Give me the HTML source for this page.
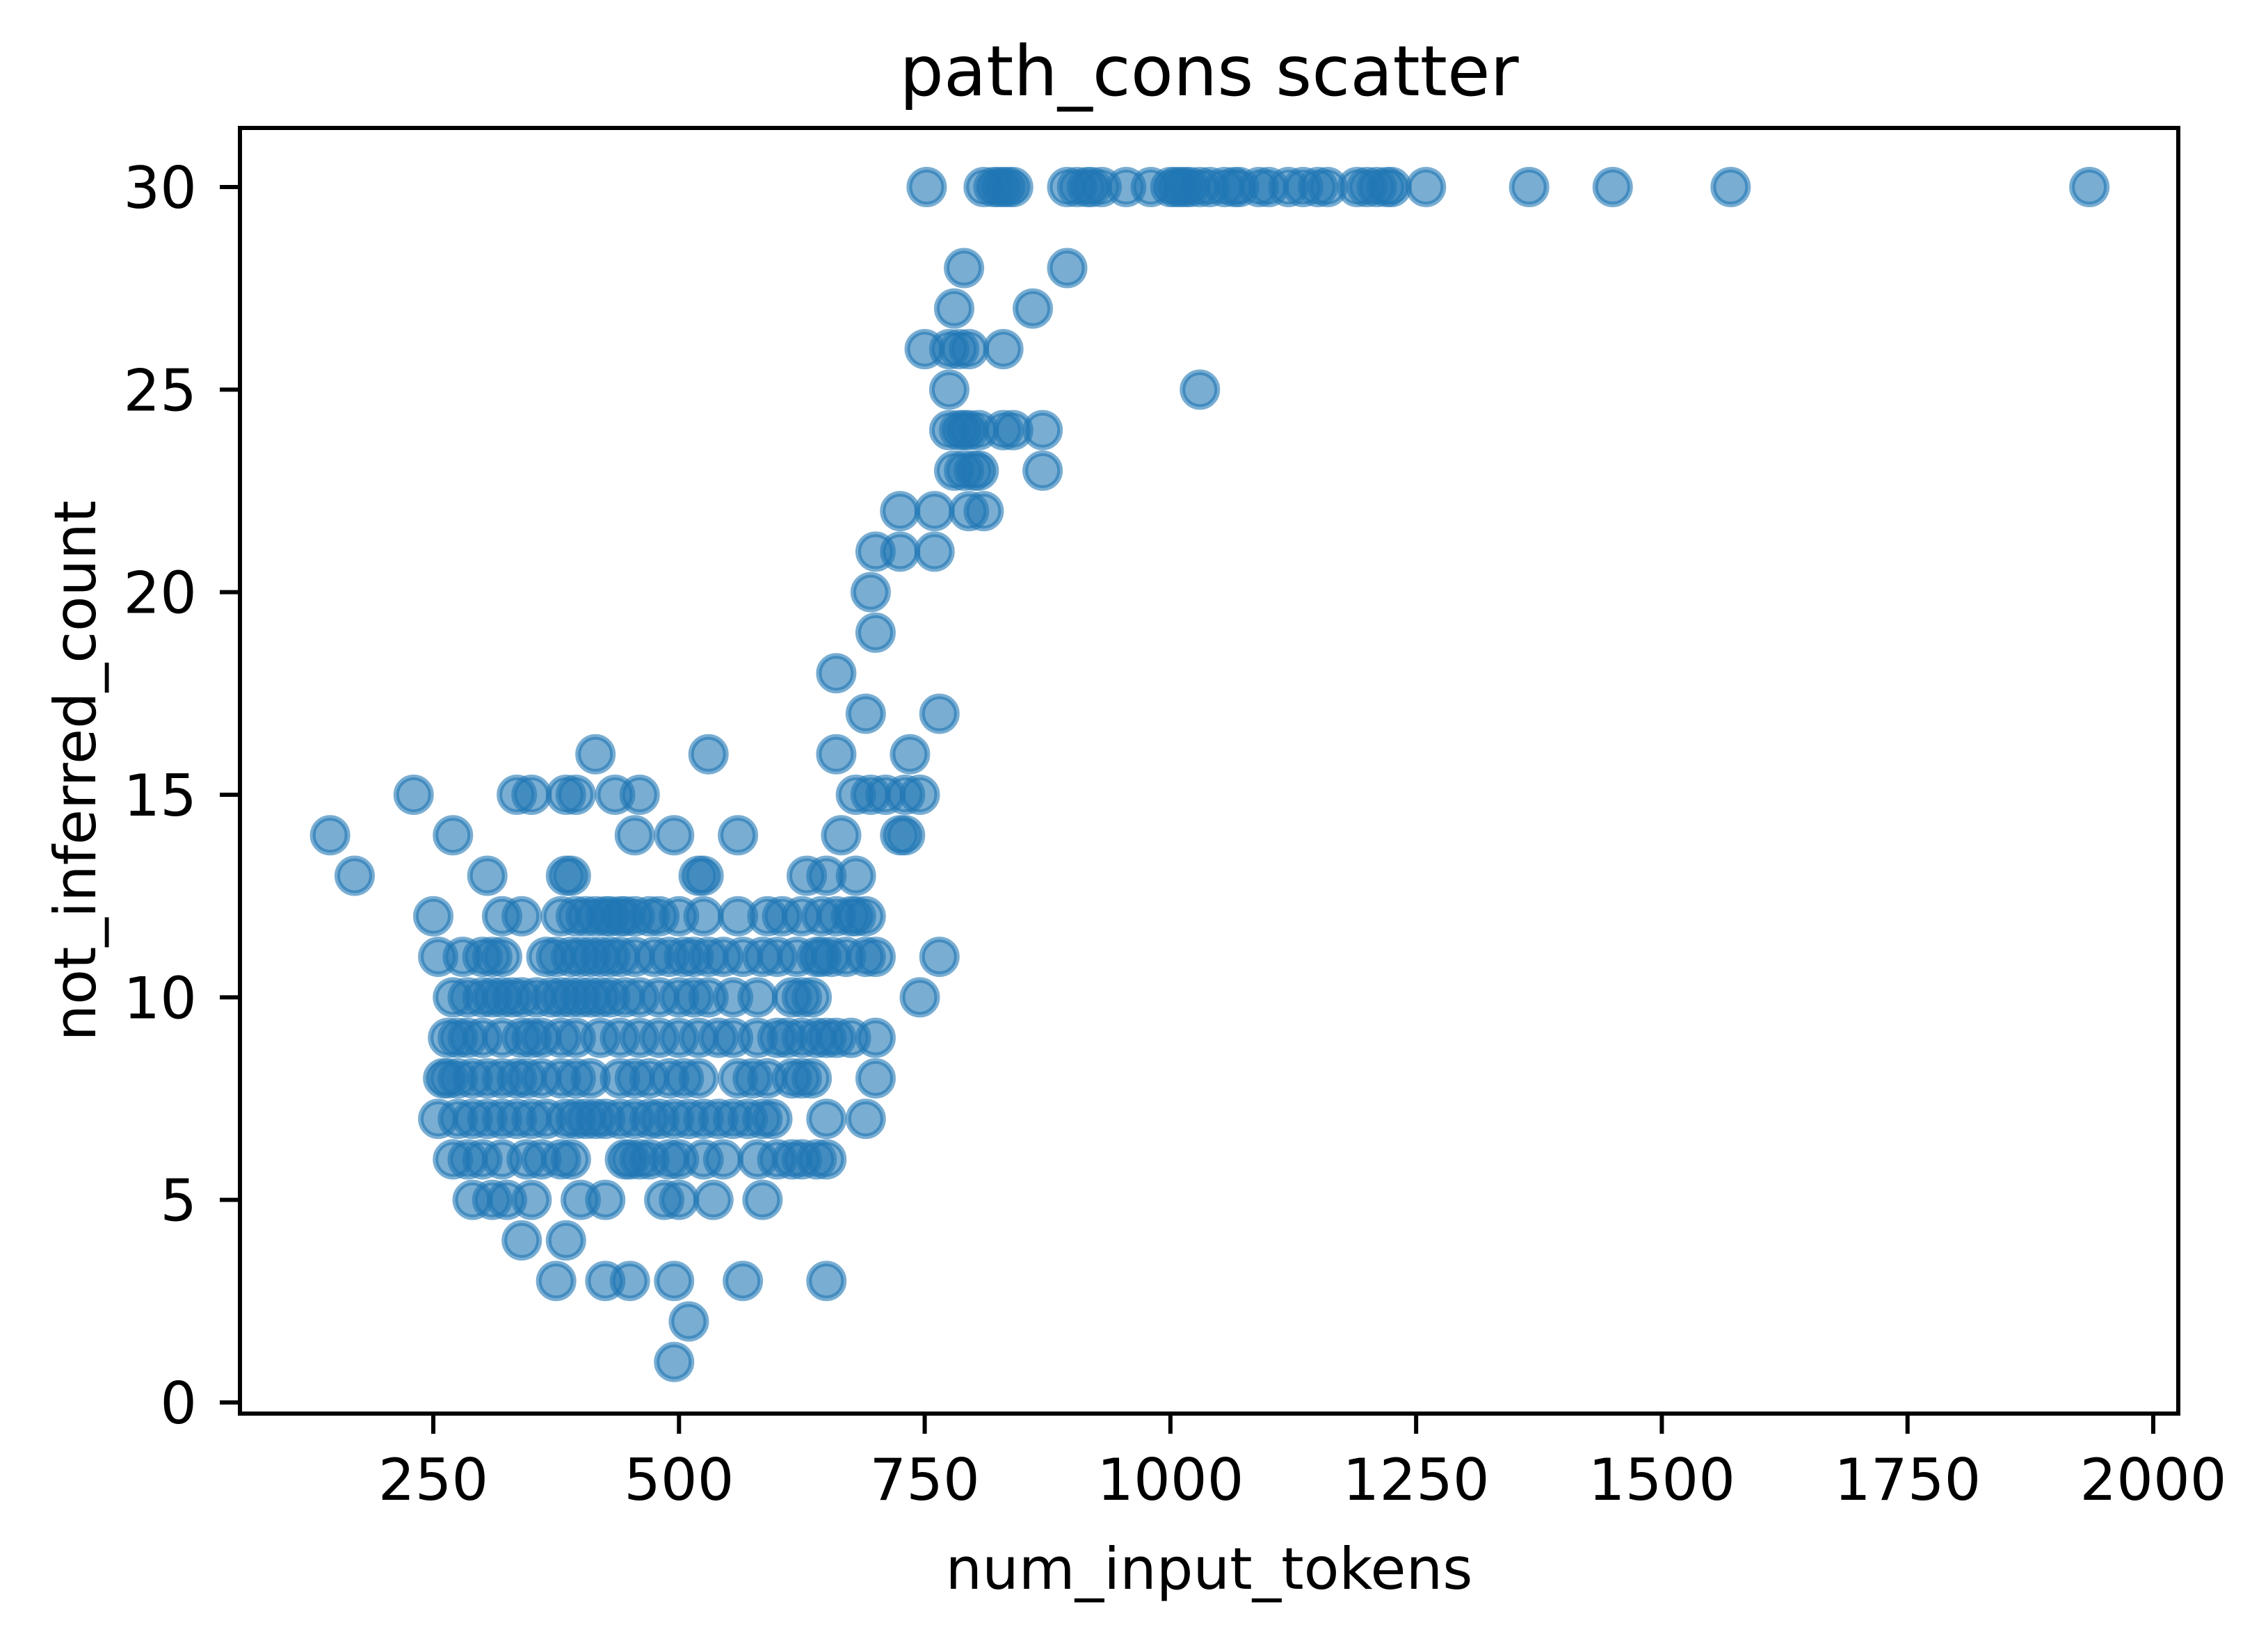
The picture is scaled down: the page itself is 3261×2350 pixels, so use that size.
<!DOCTYPE html>
<html><head><meta charset="utf-8"><style>html,body{margin:0;padding:0;background:#fff}svg{display:block}</style></head>
<body>
<svg id="chart" width="3261" height="2350" xmlns="http://www.w3.org/2000/svg" font-family="DejaVu Sans, Liberation Sans, sans-serif">
<rect width="3261" height="2350" fill="#fff"/>
<g id="marks"></g>
<g id="axes"></g>
</svg>
<script>
const xTicks = [250,500,750,1000,1250,1500,1750,2000];
const yTicks = [0,5,10,15,20,25,30];
const yLevels = [30,28,27,26,25,24,23,22,21,20,19,18,17,16,15,14,13,12,11,10,9,8,7,6,5,4,3,2,1];
const xByLevel = [
[752,810,820,825,830,835,840,895,905,915,920,930,955,980,1000,1005,1010,1015,1020,1030,1040,1055,1065,1070,1090,1100,1120,1135,1150,1160,1190,1200,1210,1220,1225,1260,1365,1450,1570,1935],
[790,895],[780,860],[750,775,785,795,830],[775,1030],
[775,785,790,795,805,830,840,870],[780,790,800,805,870],[725,760,795,810],
[700,725,760],[695],[700],[660],[690,765],[415,530,660,735],
[230,335,350,385,395,435,460,680,695,710,730,745],
[145,270,455,495,560,665,725,730],
[170,305,385,390,520,525,630,650,680],
[250,320,340,380,395,405,415,425,430,440,445,455,470,480,500,525,560,590,605,625,645,660,675,680,690],
[255,280,300,310,320,365,375,390,400,410,420,430,440,455,475,490,505,515,530,545,565,585,600,620,640,645,655,670,690,700,765],
[270,285,300,310,320,330,340,355,370,380,390,400,410,420,430,445,460,480,500,515,530,555,580,615,625,635,745],
[265,275,285,300,320,340,350,360,380,395,420,440,460,480,500,520,540,555,580,600,610,625,640,650,660,675,700],
[260,265,275,290,305,320,335,345,360,380,395,410,440,455,470,490,505,520,560,575,590,615,625,635,700],
[255,275,290,305,320,335,350,365,385,395,405,415,425,440,455,470,480,495,510,525,540,555,570,585,595,650,690],
[270,285,300,320,345,360,380,390,445,450,460,470,490,500,525,545,580,600,615,625,640,650],
[290,310,325,350,400,425,485,500,535,585],
[340,385],[375,425,450,495,565,650],[510],[495]
];
const L=345,R=3132,T=184,B=2033;
function xs(v){return 623+(v-250)*(3096-623)/1750;}
function ys(v){return 2017-v*(2017-269)/30;}
const NS="http://www.w3.org/2000/svg";
const marks=document.getElementById('marks');
yLevels.forEach((yv,i)=>{xByLevel[i].forEach(xv=>{
  const c=document.createElementNS(NS,'circle');
  c.setAttribute('cx',xs(xv));c.setAttribute('cy',ys(yv));c.setAttribute('r',25);
  c.setAttribute('fill','#1f77b4');c.setAttribute('fill-opacity','0.6');
  c.setAttribute('stroke','#1f77b4');c.setAttribute('stroke-opacity','0.6');c.setAttribute('stroke-width','8');
  
  
  marks.appendChild(c);
});});
const ax=document.getElementById('axes');
function el(tag,attrs,text){const e=document.createElementNS(NS,tag);for(const k in attrs)e.setAttribute(k,attrs[k]);if(text!==undefined)e.textContent=text;ax.appendChild(e);return e;}
const frame=el('rect',{x:L,y:T,width:R-L,height:B-T,fill:'none',stroke:'#000','stroke-width':6});


xTicks.forEach(v=>{const x=xs(v);
  const t=el('line',{x1:x,x2:x,y1:B,y2:B+29,stroke:'#000','stroke-width':6});
  
  
  const lb=el('text',{x:x,y:2157,'text-anchor':'middle','font-size':83},String(v));
  
  
});
yTicks.forEach(v=>{const y=ys(v);
  const t=el('line',{x1:L-29,x2:L,y1:y,y2:y,stroke:'#000','stroke-width':6});
  
  
  const lb=el('text',{x:L-62,y:y+30,'text-anchor':'end','font-size':83},String(v));
  
  
});
const xt=el('text',{x:(L+R)/2,y:2285,'text-anchor':'middle','font-size':83},'num_input_tokens');


const yt=el('text',{x:0,y:0,'text-anchor':'middle','font-size':83,transform:'translate(137,'+((T+B)/2)+') rotate(-90)'},'not_inferred_count');


const tt=el('text',{x:(L+R)/2,y:137,'text-anchor':'middle','font-size':100},'path_cons scatter');


</script>
</body></html>
